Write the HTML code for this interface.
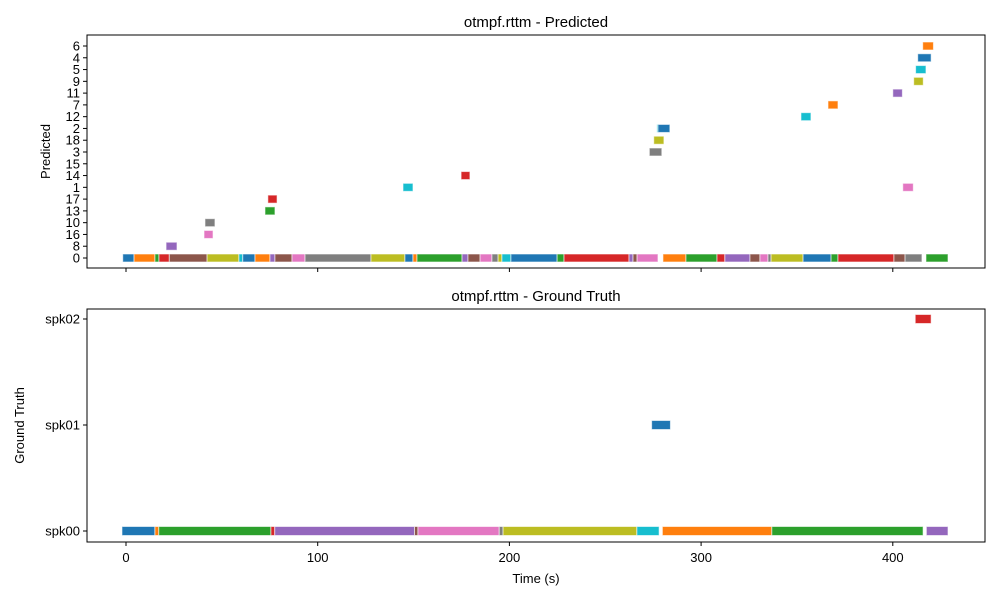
<!DOCTYPE html>
<html><head><meta charset="utf-8"><style>
body{margin:0;background:#fff}
svg text{font-family:"Liberation Sans","DejaVu Sans",sans-serif;fill:#000}
</style></head><body>
<svg id="c" width="1000" height="600" xmlns="http://www.w3.org/2000/svg"></svg>
<script>
const predLabels=["0","8","16","10","13","17","1","14","15","3","18","2","12","7","11","9","5","4","6"];
const gtLabels=["spk00","spk01","spk02"];
const xTicks=[0,100,200,300,400];
// predicted segments: [label, start, end, colorIndex]
const predSegs=[
["0",-1.7,4.2,0],["0",4.2,15.1,1],["0",15.1,17.2,2],["0",17.2,22.6,3],["0",22.6,42.3,5],["0",42.3,58.9,8],["0",58.9,60.9,9],["0",60.9,67.3,0],["0",67.3,75.1,1],["0",75.1,77.7,4],["0",77.7,86.6,5],["0",86.6,93.4,6],["0",93.4,127.8,7],["0",127.8,145.5,8],["0",145.5,149.7,0],["0",149.7,151.8,1],["0",151.8,175.3,2],["0",175.3,178.4,4],["0",178.4,184.7,5],["0",184.7,190.9,6],["0",190.9,194.1,7],["0",194.1,196.1,8],["0",196.1,200.8,9],["0",200.8,224.9,0],["0",224.9,228.5,2],["0",228.5,262.4,3],["0",262.4,264.5,4],["0",264.5,266.6,5],["0",266.6,277.5,6],["0",280.1,292.1,1],["0",292.1,308.3,2],["0",308.3,312.4,3],["0",312.4,325.5,4],["0",325.5,330.7,5],["0",330.7,334.9,6],["0",334.9,336.5,7],["0",336.5,353.2,8],["0",353.2,367.8,0],["0",367.8,371.4,2],["0",371.4,400.6,3],["0",400.6,406.4,5],["0",406.4,415.2,7],["0",417.3,428.8,2],
["8",20.9,26.6,4],["16",40.7,45.4,6],["10",41.2,46.4,7],["13",72.5,77.7,2],["17",74,78.8,3],
["1",144.5,149.7,9],["1",405.2,410.7,6],["14",174.8,179.4,3],
["3",273,279.5,7],["18",275.3,280.6,8],["2",276.9,277.5,9],["2",277.5,283.7,0],
["12",352.1,357.3,9],["7",366.2,371.4,1],["11",400,405,4],["9",410.9,415.9,8],["5",411.9,417.3,9],["4",413,420,0],["6",415.6,421.2,1]
];
const gtSegs=[
["spk00",-2.1,15.1,0],["spk00",15.1,17.1,1],["spk00",17.1,75.6,2],["spk00",75.6,77.6,3],["spk00",77.6,150.5,4],["spk00",150.5,152.3,5],["spk00",152.3,194.7,6],["spk00",194.7,196.7,7],["spk00",196.7,266.5,8],["spk00",266.5,278.1,9],["spk00",279.8,336.9,1],["spk00",336.9,415.8,2],["spk00",417.5,428.8,4],
["spk01",274.2,284,0],["spk02",411.7,420,3]
];
const palette=["#1f77b4","#ff7f0e","#2ca02c","#d62728","#9467bd","#8c564b","#e377c2","#7f7f7f","#bcbd22","#17becf"];
const NS="http://www.w3.org/2000/svg";
const svg=document.getElementById('c');
function el(t,a,p){const e=document.createElementNS(NS,t);for(const k in a)e.setAttribute(k,a[k]);(p||svg).appendChild(e);return e;}
const L=87,R=985;
const xs=t=>126+(t-0)*1.917;
function panel(name,top,bot,labels,y0,y1,segs,title,ylab,ylabX,showXLabels,bh){
  const g=el('g',{});
  
  
  const n=labels.length;
  const ys=l=>y0+(y1-y0)*labels.indexOf(l)/(n-1);
  segs.forEach(s=>{
    const r=el('rect',{x:xs(s[1]),y:ys(s[0])-bh/2,width:xs(s[2])-xs(s[1]),height:bh,fill:palette[s[3]],stroke:'#fff','stroke-opacity':0.6,'stroke-width':1},g);
    
    
  });
  const f=el('rect',{x:L,y:top,width:R-L,height:bot-top,fill:'none',stroke:'#000','stroke-width':1},g);
  
  
  labels.forEach(l=>{
    el('line',{x1:L-4,x2:L,y1:ys(l),y2:ys(l),stroke:'#000'},g);
    const t=el('text',{x:L-7,y:ys(l)+4.5,'text-anchor':'end','font-size':13},g);t.textContent=l;
    
    
  });
  xTicks.forEach(v=>{
    el('line',{x1:xs(v),x2:xs(v),y1:bot,y2:bot+4,stroke:'#000'},g);
    if(showXLabels){const t=el('text',{x:xs(v),y:bot+20,'text-anchor':'middle','font-size':13},g);t.textContent=v;
      
      }
  });
  const tt=el('text',{x:(L+R)/2,y:top-8,'text-anchor':'middle','font-size':15},g);tt.textContent=title;
  
  
  const yl=el('text',{x:ylabX,y:(top+bot)/2,'text-anchor':'middle','font-size':13,transform:`rotate(-90 ${ylabX} ${(top+bot)/2})`},g);yl.textContent=ylab;
  
  
}
panel('predicted-panel',35,268,predLabels,258,46,predSegs,'otmpf.rttm - Predicted','Predicted',50,false,8);
panel('ground-truth-panel',309,542,gtLabels,531,319,gtSegs,'otmpf.rttm - Ground Truth','Ground Truth',24,true,9);
const xt=el('text',{x:(L+R)/2,y:583,'text-anchor':'middle','font-size':13});xt.textContent='Time (s)';


</script>
</body></html>
